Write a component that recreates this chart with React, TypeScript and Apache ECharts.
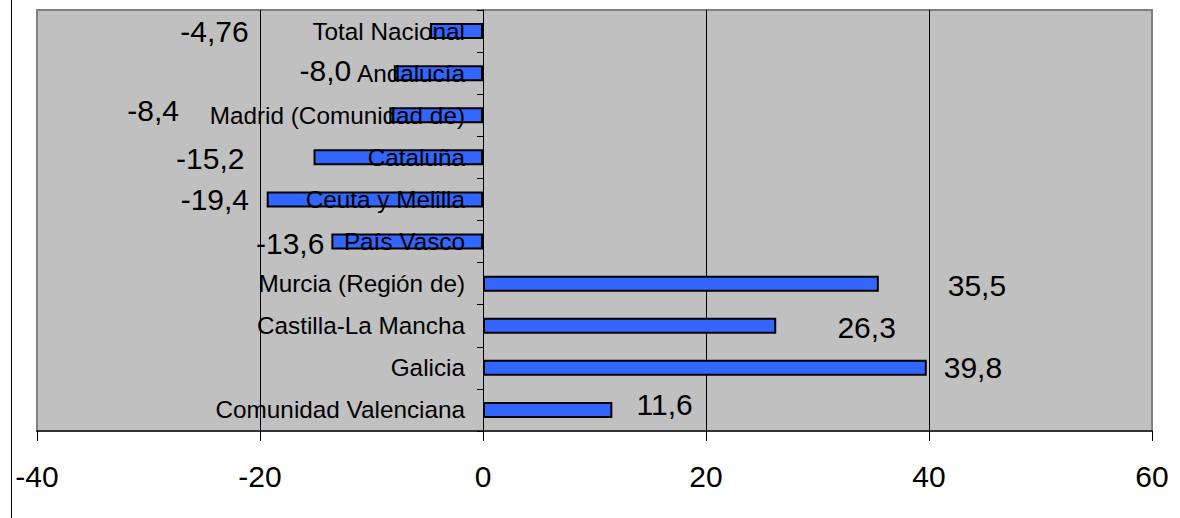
import React, { useEffect, useRef } from "react";
import * as echarts from "echarts";

const categories = [
  "Total Nacional",
  "Andalucía",
  "Madrid (Comunidad de)",
  "Cataluña",
  "Ceuta y Melilla",
  "País Vasco",
  "Murcia (Región de)",
  "Castilla-La Mancha",
  "Galicia",
  "Comunidad Valenciana",
];
const values = [-4.76, -8.0, -8.4, -15.2, -19.4, -13.6, 35.5, 26.3, 39.8, 11.6];
const decimals = [2, 1, 1, 1, 1, 1, 1, 1, 1, 1];
const xTicks = [-40, -20, 0, 20, 40, 60];

// label placement (style only): offsets of each value label from its bar centre
const labelOffsets: [number, number][] = [
  [-242, 0],
  [-113, -3],
  [-283, -5],
  [-188, 1],
  [-160, 0],
  [-117, 2],
  [296, 2],
  [237, 2],
  [268, 0],
  [117, -5],
];

const FONT = "'Liberation Sans', Arial, Helvetica, sans-serif";

export default function App() {
  const ref = useRef<HTMLDivElement>(null);
  useEffect(() => {
    if (!ref.current) return;
    const chart = echarts.init(ref.current, undefined, { renderer: "svg" });
    const splitColors = xTicks.map((t, i) =>
      i === 0 || i === xTicks.length - 1 ? "#808080" : "#000000"
    );
    chart.setOption({
      animation: false,
      backgroundColor: "#ffffff",
      textStyle: { fontFamily: FONT },
      grid: {
        left: 37,
        right: 28,
        top: 10,
        bottom: 87,
        show: true,
        backgroundColor: "#c0c0c0",
        borderColor: "#808080",
        borderWidth: 2,
        containLabel: false,
        outerBoundsMode: "none",
      },
      graphic: [
        {
          type: "line",
          shape: { x1: 11.5, y1: 0, x2: 11.5, y2: 518 },
          style: { stroke: "#000", lineWidth: 1 },
          silent: true,
        },
      ],
      xAxis: {
        type: "value",
        min: xTicks[0],
        max: xTicks[xTicks.length - 1],
        interval: 20,
        axisLine: { show: true, onZero: false, lineStyle: { color: "#333", width: 2 } },
        axisTick: { show: true, length: 10, lineStyle: { color: "#000", width: 1 } },
        axisLabel: {
          color: "#000",
          fontSize: 30,
          fontFamily: FONT,
          margin: 30,
          formatter: (v: number) => String(v),
        },
        splitLine: { show: true, lineStyle: { color: splitColors, width: 1 } },
      },
      yAxis: {
        type: "category",
        inverse: true,
        data: categories,
        z: 3,
        axisLine: { show: true, onZero: true, lineStyle: { color: "#000", width: 1 } },
        axisTick: { show: true, length: 6, lineStyle: { color: "#000" } },
        axisLabel: {
          color: "#000",
          fontSize: 24.3,
          fontFamily: FONT,
          margin: -428,
        },
        splitLine: { show: false },
      },
      series: [
        {
          type: "bar",
          barWidth: 16,
          data: values.map((v, i) => ({
            value: v,
            label: {
              show: true,
              position: "inside",
              offset: labelOffsets[i],
              formatter: () => v.toFixed(decimals[i]).replace(".", ","),
            },
          })),
          itemStyle: { color: "#3366ff", borderColor: "#000", borderWidth: 2 },
          label: {
            show: true,
            color: "#000",
            fontSize: 30,
            fontFamily: FONT,
          },
        },
      ],
    });
    return () => chart.dispose();
  }, []);
  return (
    <div
      ref={ref}
      style={{ position: "fixed", left: 0, top: 0, width: 1180, height: 518 }}
    />
  );
}
